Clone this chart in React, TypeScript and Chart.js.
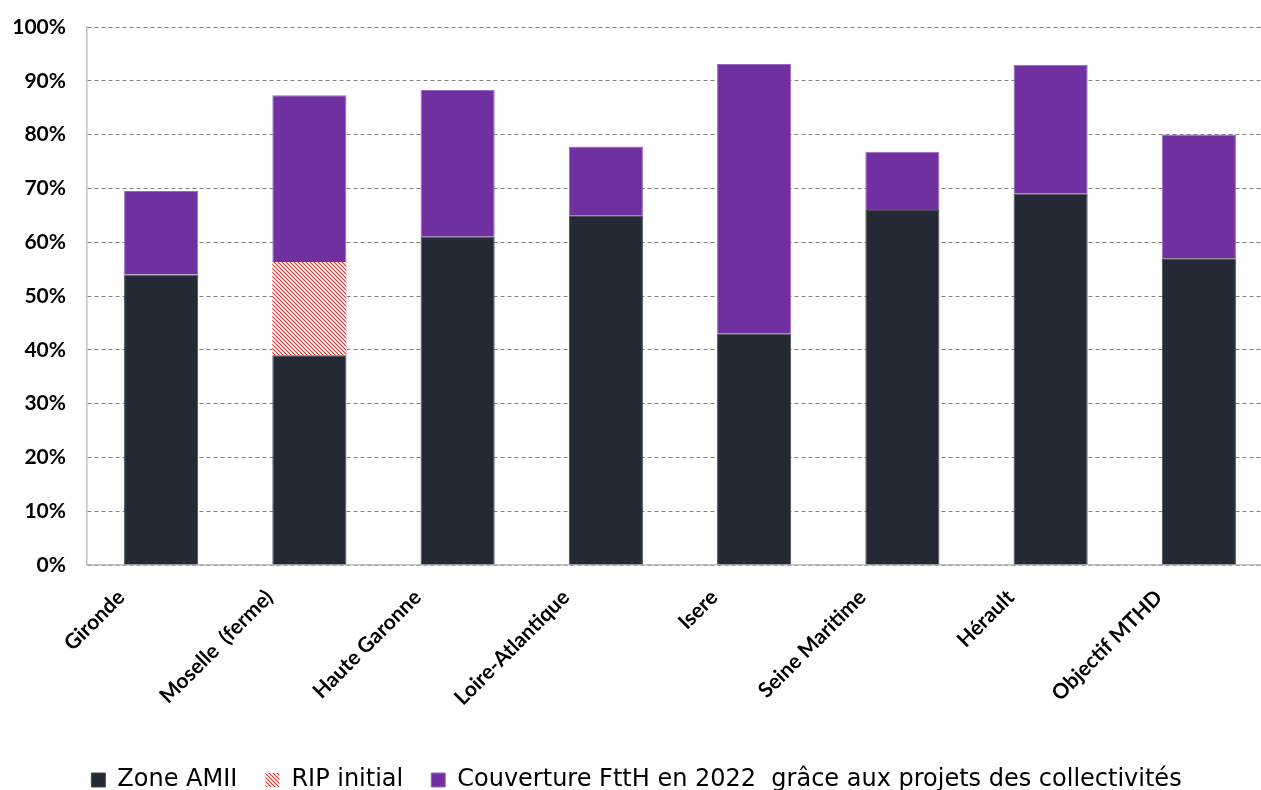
import React, { useEffect, useRef } from "react";
import { Chart, registerables } from "chart.js";

Chart.register(...registerables);

const categories = [
  "Gironde",
  "Moselle  (ferme)",
  "Haute Garonne",
  "Loire-Atlantique",
  "Isere",
  "Seine Maritime",
  "Hérault",
  "Objectif MTHD",
];
const zoneAMII = [54, 39, 61, 65, 43, 66, 69, 57];
const ripInitial = [0, 17.3, 0, 0, 0, 0, 0, 0];
const couverture = [15.5, 31, 27.3, 12.8, 50.1, 10.8, 24, 23];
const seriesNames = [
  "Zone AMII",
  "RIP initial",
  "Couverture FttH en 2022  grâce aux projets des collectivités",
];
const yTicks = [0, 10, 20, 30, 40, 50, 60, 70, 80, 90, 100];

const FONT = "Lato, 'DejaVu Sans', sans-serif";
const LEGEND_FONT = "'DejaVu Sans', sans-serif";
const W = 1286;
const H = 802;

function makeHatch(): CanvasPattern | string {
  const c = document.createElement("canvas");
  c.width = 4;
  c.height = 4;
  const g = c.getContext("2d");
  if (!g) return "#e03030";
  g.fillStyle = "#ffffff";
  g.fillRect(0, 0, 4, 4);
  g.strokeStyle = "#e0302c";
  g.lineWidth = 1.1;
  g.beginPath();
  g.moveTo(-1, -1);
  g.lineTo(5, 5);
  g.moveTo(-1, 3);
  g.lineTo(1, 5);
  g.moveTo(3, -1);
  g.lineTo(5, 1);
  g.stroke();
  const p = g.createPattern(c, "repeat");
  return p || "#e03030";
}

export default function App() {
  const ref = useRef<HTMLCanvasElement | null>(null);

  useEffect(() => {
    document.body.style.margin = "0";
    document.body.style.overflow = "hidden";
    const canvas = ref.current;
    if (!canvas) return;
    const hatch = makeHatch();
    const chart = new Chart(canvas, {
      type: "bar",
      data: {
        labels: categories,
        datasets: [
          {
            label: seriesNames[0],
            data: zoneAMII,
            backgroundColor: "#232a36",
            borderColor: "#454b55",
            borderWidth: 1,
          },
          {
            label: seriesNames[1],
            data: ripInitial,
            backgroundColor: hatch as any,
            borderWidth: 0,
          },
          {
            label: seriesNames[2],
            data: couverture,
            backgroundColor: "#7030a0",
            borderColor: "#9a68c4",
            borderWidth: 1,
          },
        ],
      },
      options: {
        animation: false,
        responsive: false,
        maintainAspectRatio: false,
        layout: { padding: { top: 27, left: 0, right: 13, bottom: 0 } },
        datasets: { bar: { barPercentage: 0.5, categoryPercentage: 1 } },
        plugins: {
          tooltip: { enabled: false },
          legend: {
            position: "bottom",
            labels: {
              boxWidth: 14,
              boxHeight: 14,
              padding: 28,
              color: "#000",
              font: { family: LEGEND_FONT, size: 24, weight: "normal" },
            },
          },
        },
        scales: {
          x: {
            stacked: true,
            afterFit: (s: any) => {
              s.height = 175;
            },
            grid: { display: false, drawTicks: false },
            border: { display: true, color: "#bfbfbf", width: 1.5 },
            ticks: {
              minRotation: 45,
              maxRotation: 45,
              padding: 20,
              labelOffset: -40,
              color: "#000",
              font: { family: FONT, size: 21, weight: "bold" },
            },
          },
          y: {
            stacked: true,
            min: 0,
            max: 100,
            afterFit: (s: any) => {
              s.width = 87;
            },
            afterBuildTicks: (s: any) => {
              s.ticks = yTicks.map((v) => ({ value: v }));
            },
            grid: {
              color: "#808080",
              lineWidth: 1,
              drawTicks: true,
              tickLength: 18,
              tickColor: "rgba(0,0,0,0)",
            },
            border: { display: true, color: "#bfbfbf", width: 1.5, dash: [4, 3] },
            ticks: {
              padding: 3,
              color: "#000",
              font: { family: FONT, size: 21, weight: "bold" },
              callback: (v: any) => v + "%",
            },
          },
        },
      },
    });
    return () => chart.destroy();
  }, []);

  return (
    <div style={{ width: 1261, height: 790, overflow: "hidden", position: "relative", background: "#fff" }}>
      <canvas ref={ref} width={W} height={H} style={{ display: "block", width: W, height: H }} />
    </div>
  );
}
